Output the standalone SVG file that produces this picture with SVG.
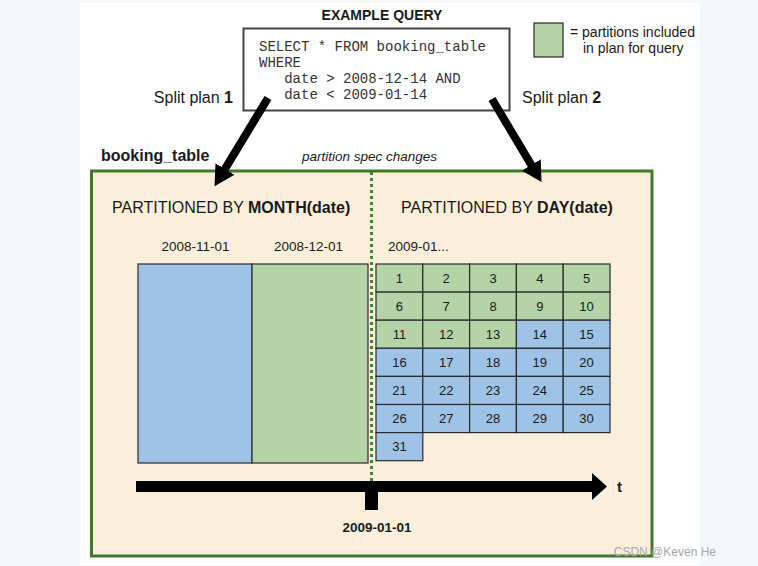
<svg xmlns="http://www.w3.org/2000/svg" width="758" height="566" viewBox="0 0 758 566">
<style>
  .sans { font-family: "Liberation Sans", Arial, sans-serif; fill: #1a1a1a; }
  .mono { font-family: "Liberation Mono", "Courier New", monospace; font-size: 14px; fill: #333; }
  .b { font-weight: bold; }
  .g { fill: #b4d3a6; stroke: #2b2b2b; stroke-width: 1.2; }
  .bl { fill: #9fc3e6; stroke: #2b2b2b; stroke-width: 1.2; }
  .num { font-family: "Liberation Sans", Arial, sans-serif; font-size: 13px; fill: #1a1a1a; text-anchor: middle; }
  .conn { stroke: #000; stroke-width: 8; fill: none; }
</style>
<defs>
  <marker id="head" viewBox="0 -11 20 22" refX="1" refY="0" markerWidth="20" markerHeight="22" markerUnits="userSpaceOnUse" orient="auto">
    <path d="M0,-11 L20,0 L0,11 z" fill="#000"/>
  </marker>
</defs>
<rect x="0" y="0" width="758" height="566" fill="#f5f8fa"/>
<rect x="80" y="3" width="620" height="562" fill="#ffffff"/>

<g id="query">
  <text x="382" y="20" class="sans b" font-size="14" text-anchor="middle">EXAMPLE QUERY</text>
  <rect x="243.5" y="28.5" width="266" height="82" fill="#fff" stroke="#444" stroke-width="2"/>
  <text x="259" y="51" class="mono">SELECT * FROM booking_table</text>
  <text x="259" y="67" class="mono">WHERE</text>
  <text x="259" y="83" class="mono" xml:space="preserve">   date &gt; 2008-12-14 AND</text>
  <text x="259" y="99" class="mono" xml:space="preserve">   date &lt; 2009-01-14</text>
</g>

<g id="legend">
  <rect x="534" y="23" width="29" height="34" class="g" stroke-width="1.5"/>
  <text x="570" y="37" class="sans" font-size="14">= partitions included</text>
  <text x="583" y="53" class="sans" font-size="14">in plan for query</text>
</g>

<g id="labels">
  <text x="233" y="103" class="sans" font-size="16" text-anchor="end">Split plan <tspan class="b">1</tspan></text>
  <text x="522" y="103" class="sans" font-size="16">Split plan <tspan class="b">2</tspan></text>
  <text x="101" y="161" class="sans b" font-size="16">booking_table</text>
  <text x="302" y="161" class="sans" font-size="13.5" font-style="italic">partition spec changes</text>
</g>

<g id="booking_table">
  <rect x="91.5" y="171" width="560.5" height="385" fill="#faefdb" stroke="#3f7a2a" stroke-width="3"/>
  <text x="112" y="213" class="sans" font-size="16">PARTITIONED BY <tspan class="b">MONTH(date)</tspan></text>
  <text x="401" y="213" class="sans" font-size="16">PARTITIONED BY <tspan class="b">DAY(date)</tspan></text>
</g>

<g id="month_partitions">
  <text x="195.5" y="251" class="sans" font-size="13.5" text-anchor="middle">2008-11-01</text>
  <text x="308.5" y="251" class="sans" font-size="13.5" text-anchor="middle">2008-12-01</text>
  <rect x="138" y="264" width="114" height="199" class="bl"/>
  <rect x="252" y="264" width="116" height="199" class="g"/>
</g>

<g id="day_partitions">
  <text x="388" y="251" class="sans" font-size="13.5">2009-01...</text>
  <rect x="376" y="264" width="46.8" height="28.1" class="g"/>
  <rect x="422.8" y="264" width="46.8" height="28.1" class="g"/>
  <rect x="469.6" y="264" width="46.8" height="28.1" class="g"/>
  <rect x="516.4" y="264" width="46.8" height="28.1" class="g"/>
  <rect x="563.2" y="264" width="46.8" height="28.1" class="g"/>
  <rect x="376" y="292.1" width="46.8" height="28.1" class="g"/>
  <rect x="422.8" y="292.1" width="46.8" height="28.1" class="g"/>
  <rect x="469.6" y="292.1" width="46.8" height="28.1" class="g"/>
  <rect x="516.4" y="292.1" width="46.8" height="28.1" class="g"/>
  <rect x="563.2" y="292.1" width="46.8" height="28.1" class="g"/>
  <rect x="376" y="320.2" width="46.8" height="28.1" class="g"/>
  <rect x="422.8" y="320.2" width="46.8" height="28.1" class="g"/>
  <rect x="469.6" y="320.2" width="46.8" height="28.1" class="g"/>
  <rect x="516.4" y="320.2" width="46.8" height="28.1" class="bl"/>
  <rect x="563.2" y="320.2" width="46.8" height="28.1" class="bl"/>
  <rect x="376" y="348.3" width="46.8" height="28.1" class="bl"/>
  <rect x="422.8" y="348.3" width="46.8" height="28.1" class="bl"/>
  <rect x="469.6" y="348.3" width="46.8" height="28.1" class="bl"/>
  <rect x="516.4" y="348.3" width="46.8" height="28.1" class="bl"/>
  <rect x="563.2" y="348.3" width="46.8" height="28.1" class="bl"/>
  <rect x="376" y="376.4" width="46.8" height="28.1" class="bl"/>
  <rect x="422.8" y="376.4" width="46.8" height="28.1" class="bl"/>
  <rect x="469.6" y="376.4" width="46.8" height="28.1" class="bl"/>
  <rect x="516.4" y="376.4" width="46.8" height="28.1" class="bl"/>
  <rect x="563.2" y="376.4" width="46.8" height="28.1" class="bl"/>
  <rect x="376" y="404.5" width="46.8" height="28.1" class="bl"/>
  <rect x="422.8" y="404.5" width="46.8" height="28.1" class="bl"/>
  <rect x="469.6" y="404.5" width="46.8" height="28.1" class="bl"/>
  <rect x="516.4" y="404.5" width="46.8" height="28.1" class="bl"/>
  <rect x="563.2" y="404.5" width="46.8" height="28.1" class="bl"/>
  <rect x="376" y="432.6" width="46.8" height="28.1" class="bl"/>
  <text x="399.4" y="282.6" class="num">1</text>
  <text x="446.2" y="282.6" class="num">2</text>
  <text x="493" y="282.6" class="num">3</text>
  <text x="539.8" y="282.6" class="num">4</text>
  <text x="586.6" y="282.6" class="num">5</text>
  <text x="399.4" y="310.7" class="num">6</text>
  <text x="446.2" y="310.7" class="num">7</text>
  <text x="493" y="310.7" class="num">8</text>
  <text x="539.8" y="310.7" class="num">9</text>
  <text x="586.6" y="310.7" class="num">10</text>
  <text x="399.4" y="338.8" class="num">11</text>
  <text x="446.2" y="338.8" class="num">12</text>
  <text x="493" y="338.8" class="num">13</text>
  <text x="539.8" y="338.8" class="num">14</text>
  <text x="586.6" y="338.8" class="num">15</text>
  <text x="399.4" y="366.9" class="num">16</text>
  <text x="446.2" y="366.9" class="num">17</text>
  <text x="493" y="366.9" class="num">18</text>
  <text x="539.8" y="366.9" class="num">19</text>
  <text x="586.6" y="366.9" class="num">20</text>
  <text x="399.4" y="395" class="num">21</text>
  <text x="446.2" y="395" class="num">22</text>
  <text x="493" y="395" class="num">23</text>
  <text x="539.8" y="395" class="num">24</text>
  <text x="586.6" y="395" class="num">25</text>
  <text x="399.4" y="423.1" class="num">26</text>
  <text x="446.2" y="423.1" class="num">27</text>
  <text x="493" y="423.1" class="num">28</text>
  <text x="539.8" y="423.1" class="num">29</text>
  <text x="586.6" y="423.1" class="num">30</text>
  <text x="399.4" y="451.2" class="num">31</text>
</g>

<g id="timeline">
  <line x1="371.5" y1="172" x2="371.5" y2="482" stroke="#3a8a2c" stroke-width="3" stroke-dasharray="3,3"/>
  <rect x="136" y="481" width="457" height="11" fill="#000"/>
  <polygon points="592,473 607,486.5 592,500" fill="#000"/>
  <rect x="365" y="486" width="13" height="24" fill="#000"/>
  <text x="617" y="492" class="sans b" font-size="15">t</text>
  <text x="377" y="532" class="sans b" font-size="13.5" text-anchor="middle">2009-01-01</text>
</g>

<g id="connectors">
  <line x1="268" y1="98" x2="224.4" y2="169.9" class="conn" marker-end="url(#head)"/>
  <line x1="492" y1="99" x2="531.8" y2="165.8" class="conn" marker-end="url(#head)"/>
</g>

<text x="716" y="556" font-family="'Liberation Sans', Arial, sans-serif" font-size="12" fill="#a8a8a8" text-anchor="end">CSDN @Keven He</text>
</svg>
